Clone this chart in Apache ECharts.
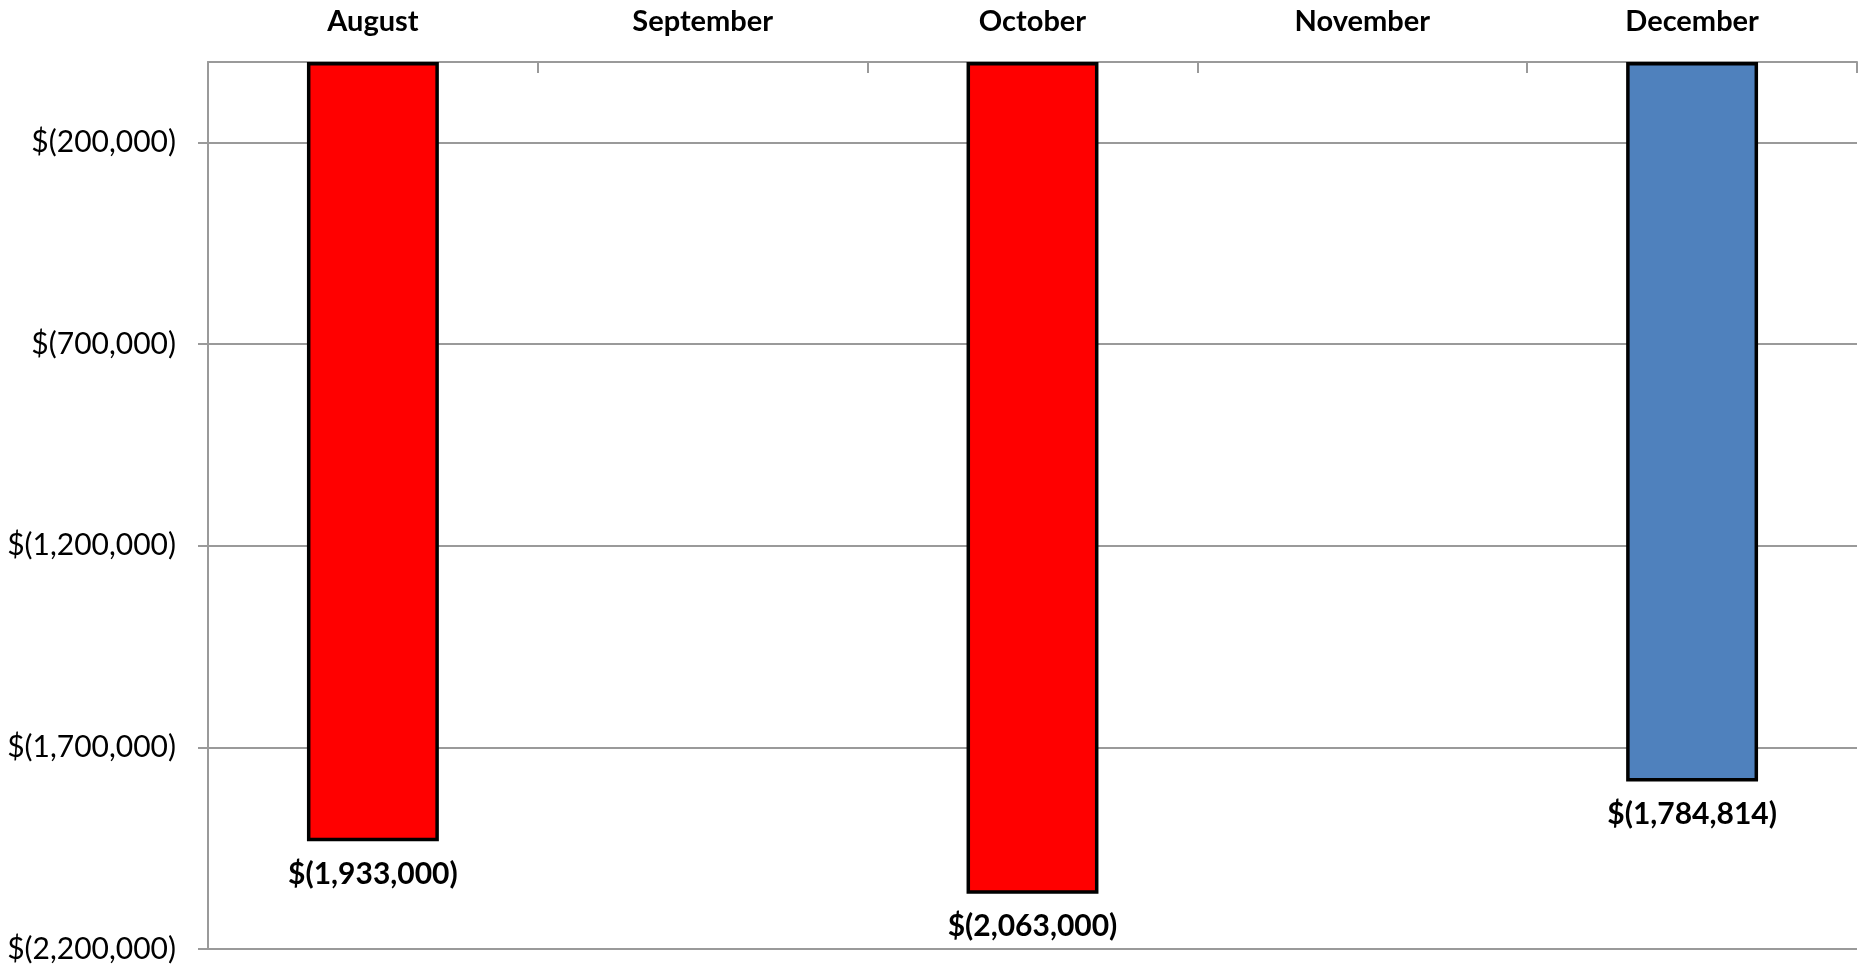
<!DOCTYPE html>
<html>
<head>
<meta charset="utf-8">
<script src="https://cdn.jsdelivr.net/npm/echarts@6/dist/echarts.min.js"></script>
<style>
  html, body { margin: 0; padding: 0; background: #fff; }
  #chart { width: 1860px; height: 966px; }
</style>
</head>
<body>
<div id="chart"></div>
<script>
// data
const months = ["August", "September", "October", "November", "December"];
const netValues = [-1933000, null, -2063000, null, -1784814];
const barColors = ["#FF0000", "#FF0000", "#FF0000", "#FF0000", "#4F81BD"];
const yTicks = [-200000, -700000, -1200000, -1700000, -2200000];

const fmtMoney = (v) => {
  const s = Math.abs(v).toLocaleString("en-US");
  return v < 0 ? "$(" + s + ")" : "$" + s;
};

const gridGray = "#9a9a9a";
const chart = echarts.init(document.getElementById("chart"));

chart.setOption({
  animation: false,
  backgroundColor: "#ffffff",
  textStyle: { fontFamily: "Lato" },
  grid: { left: 208, right: 3, top: 62, bottom: 17, containLabel: false },
  xAxis: {
    type: "category",
    position: "top",
    data: months,
    boundaryGap: true,
    axisLine: { lineStyle: { color: gridGray, width: 2 } },
    axisTick: { show: true, inside: true, length: 11, lineStyle: { color: gridGray, width: 2 } },
    axisLabel: { color: "#000", fontSize: 29, fontWeight: "bold", margin: 26 },
    splitLine: { show: false },
  },
  yAxis: {
    type: "value",
    min: -2200000,
    max: 0,
    axisLine: { show: true, lineStyle: { color: gridGray, width: 2 } },
    axisTick: {
      show: true,
      length: 10,
      customValues: yTicks,
      lineStyle: { color: gridGray, width: 2 },
    },
    axisLabel: {
      color: "#000",
      fontSize: 30,
      margin: 32,
      customValues: yTicks,
      formatter: (v) => fmtMoney(v),
    },
    splitLine: { show: true, lineStyle: { color: gridGray, width: 2 } },
  },
  series: [
    {
      type: "bar",
      data: netValues.map((v, i) => ({
        value: v,
        itemStyle: { color: barColors[i] },
      })),
      barWidth: "40%",
      itemStyle: { borderColor: "#000", borderWidth: 3.5 },
      label: {
        show: true,
        position: "bottom",
        distance: 18,
        color: "#000",
        fontSize: 30,
        fontWeight: "bold",
        formatter: (p) => fmtMoney(p.value),
      },
    },
  ],
});

window.addEventListener("resize", () => chart.resize());
</script>
</body>
</html>
